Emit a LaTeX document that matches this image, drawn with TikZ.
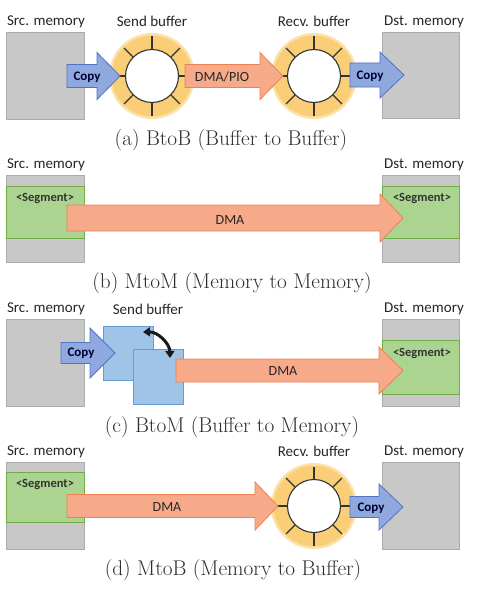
\documentclass[tikz,border=0pt]{standalone}
\usepackage{fontspec}
\newfontfamily\calfont{Carlito}
\usetikzlibrary{arrows.meta}
\definecolor{memgray}{RGB}{200,200,200}
\definecolor{memedge}{RGB}{172,172,172}
\definecolor{seggreen}{RGB}{172,212,145}
\definecolor{segedge}{RGB}{112,173,71}
\definecolor{copyblue}{RGB}{143,168,222}
\definecolor{copyedge}{RGB}{80,115,195}
\definecolor{dmaorange}{RGB}{246,170,138}
\definecolor{dmaedge}{RGB}{236,130,80}
\definecolor{ringc}{RGB}{249,206,118}
\definecolor{ringsoft}{RGB}{252,226,168}
\definecolor{sqblue}{RGB}{160,196,232}
\definecolor{sqedge}{RGB}{100,155,212}
\tikzset{
  mem/.style={fill=memgray, draw=memedge, line width=0.8pt},
  seg/.style={fill=seggreen, draw=segedge, line width=0.8pt},
  sq/.style={fill=sqblue, draw=sqedge, line width=0.8pt},
  lbl/.style={font=\calfont\fontsize{15}{15}\selectfont, text=black!85, inner sep=0pt},
  captxt/.style={font=\fontsize{21.3}{21.3}\selectfont, text=black!82, inner sep=0pt},
  arrtxt/.style={font=\calfont\fontsize{14}{14}\selectfont, text=black!85, inner sep=0pt},
  segtxt/.style={font=\calfont\bfseries\fontsize{12.5}{12.5}\selectfont, text=black!80, inner sep=0pt},
  copytxt/.style={font=\calfont\bfseries\fontsize{13}{13}\selectfont, text=black!80!blue, inner sep=0pt},
  copyarr/.style={fill=copyblue, draw=copyedge, line width=0.8pt},
  dmaarr/.style={fill=dmaorange, draw=dmaedge, line width=0.8pt},
  spoke/.style={draw=black!80, line width=1.1pt},
}
% #1 style, #2 x start, #3 x head base, #4 x tip, #5 y centre, #6 half body, #7 half head
\newcommand\blockarrow[7]{%
  \path[#1] (#2,#5-#6) -- (#3,#5-#6) -- (#3,#5-#7) -- (#4,#5) -- (#3,#5+#7)
    -- (#3,#5+#6) -- (#2,#5+#6) -- cycle;}
\newcommand\ringbuf[2]{%
  \fill[ringsoft] (#1,#2) circle[radius=43];
  \fill[ringc] (#1,#2) circle[radius=40.5];
  \fill[white] (#1,#2) circle[radius=26.5];
  \draw[spoke] (#1,#2) circle[radius=26.5];
  \foreach \a in {0,45,...,315} \draw[spoke] (#1,#2) ++(\a:26.5) -- ++(\a:13);}
\begin{document}
\begin{tikzpicture}[x=1pt,y=-1pt]
\useasboundingbox (0,0) rectangle (497,610);
\fill[white] (0,0) rectangle (497,610);
% ---------- (a)
\node[lbl] (aSrcL) at (46,22) {Src. memory};
\node[lbl] (aSendL) at (152,21) {Send buffer};
\node[lbl] (aRecvL) at (314,21) {Recv. buffer};
\node[lbl] (aDstL) at (424,22) {Dst. memory};
\draw[mem] (6,32) rectangle (84,119);
\draw[mem] (382,32) rectangle (459,118);
\ringbuf{152}{76}
\ringbuf{314}{76}
\blockarrow{copyarr}{67}{97}{120}{76}{11.5}{23.5}
\node[copytxt] (aCopy1) at (87,77) {Copy};
\blockarrow{dmaarr}{185}{260}{283}{76}{11.5}{23.5}
\node[arrtxt] (aDma) at (222,77) {DMA/PIO};
\blockarrow{copyarr}{350}{380}{404}{75}{12}{23}
\node[copytxt] (aCopy2) at (370,76) {Copy};
\node[captxt] (capA) at (231,140) {(a) BtoB (Buffer to Buffer)};
% ---------- (b)
\node[lbl] (bSrcL) at (46,165) {Src. memory};
\node[lbl] (bDstL) at (424,165) {Dst. memory};
\draw[mem] (6,175) rectangle (84,262);
\draw[seg] (6,186) rectangle (84,238);
\draw[mem] (382,175) rectangle (459,262);
\draw[seg] (382,186) rectangle (459,238);
\node[segtxt] (bSeg1) at (45,198) {<Segment>};
\node[segtxt] (bSeg2) at (422,198) {<Segment>};
\blockarrow{dmaarr}{67}{380}{403}{218}{13}{24}
\node[arrtxt] (bDma) at (230,220) {DMA};
\node[captxt] (capB) at (232,283) {(b) MtoM (Memory to Memory)};
% ---------- (c)
\node[lbl] (cSrcL) at (46,309) {Src. memory};
\node[lbl] (cSendL) at (148,309) {Send buffer};
\node[lbl] (cDstL) at (424,309) {Dst. memory};
\draw[mem] (6,319) rectangle (84,406);
\draw[sq] (103,326) rectangle (153,380);
\draw[sq] (133,349) rectangle (183,404);
\draw[mem] (382,319) rectangle (459,406);
\draw[seg] (382,340) rectangle (459,394);
\node[segtxt] (cSeg) at (422,353) {<Segment>};
\blockarrow{copyarr}{61}{90}{115}{353}{10.5}{25}
\node[copytxt] (cCopy) at (81,353) {Copy};
\coordinate (swapA) at (143,332);
\coordinate (swapB) at (170,358);
\draw[{Triangle[length=7pt,width=9pt]}-{Triangle[length=7pt,width=9pt]}, line width=3pt, black!90] (swapA) to[bend left=45] (swapB);
\blockarrow{dmaarr}{176}{379}{403}{370.5}{11.5}{23.5}
\node[arrtxt] (cDma) at (283,371) {DMA};
\node[captxt] (capC) at (232,427) {(c) BtoM (Buffer to Memory)};
% ---------- (d)
\node[lbl] (dSrcL) at (46,452) {Src. memory};
\node[lbl] (dRecvL) at (314,451) {Recv. buffer};
\node[lbl] (dDstL) at (424,452) {Dst. memory};
\draw[mem] (6,462) rectangle (84,549);
\draw[seg] (6,472) rectangle (84,522);
\node[segtxt] (dSeg) at (45,484) {<Segment>};
\draw[mem] (382,462) rectangle (459,549);
\ringbuf{314}{506}
\blockarrow{dmaarr}{67}{255}{278}{506}{11.5}{24}
\node[arrtxt] (dDma) at (167,507) {DMA};
\blockarrow{copyarr}{350}{379}{403}{507}{10.5}{23}
\node[copytxt] (dCopy) at (371,508) {Copy};
\node[captxt] (capD) at (233,570) {(d) MtoB (Memory to Buffer)};
\end{tikzpicture}
\end{document}
